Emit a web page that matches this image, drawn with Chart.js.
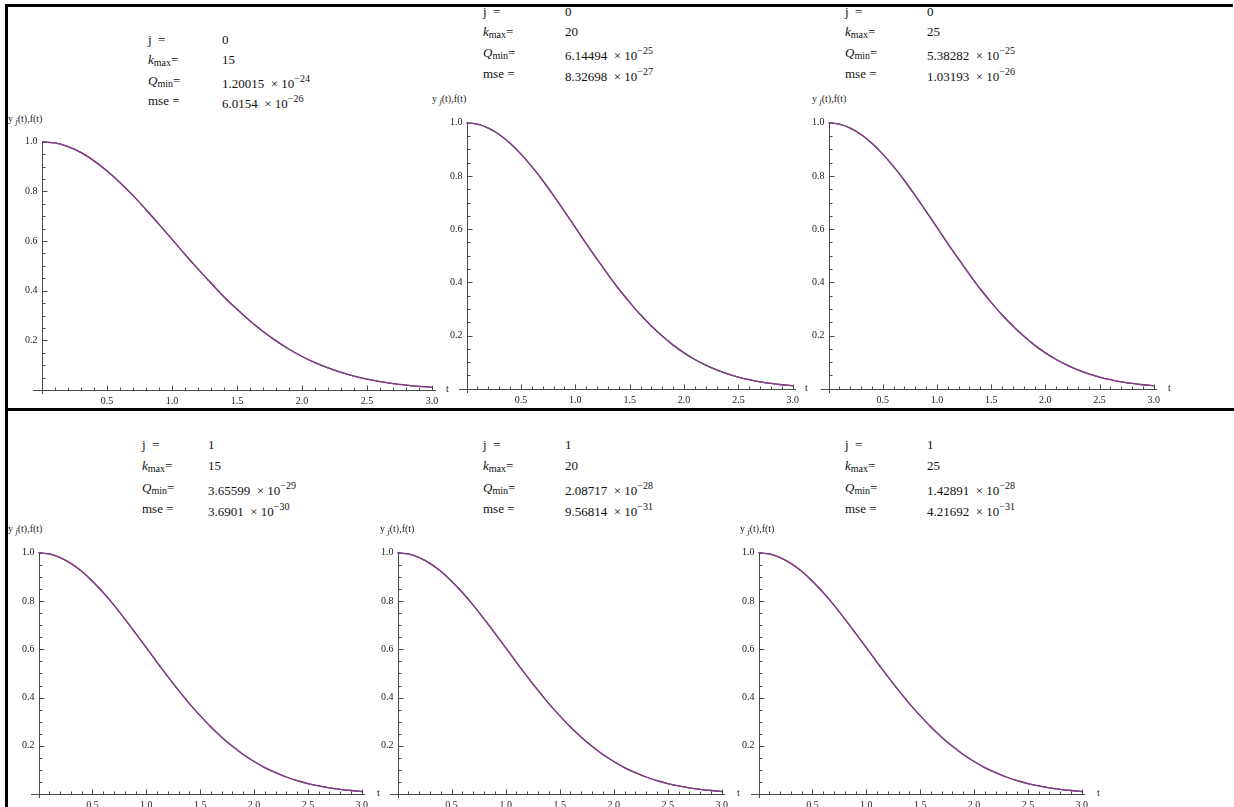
<!DOCTYPE html>
<html>
<head>
<meta charset="utf-8">
<script src="https://cdn.jsdelivr.net/npm/chart.js@4"></script>
<style>
html, body { margin: 0; padding: 0; background: #fff; }
#page { position: relative; width: 1234px; height: 807px; overflow: hidden; font-family: "Liberation Serif", "DejaVu Serif", serif; color: #000; }
.rule { position: absolute; background: #000; }
canvas { position: absolute; }
.txt { position: absolute; white-space: nowrap; line-height: 1; font-size: 13px; color: #111; }
.txt sub { font-size: 10px; vertical-align: -2px; }
.txt sup { font-size: 10px; vertical-align: 6px; }
.axl { position: absolute; white-space: nowrap; line-height: 1; font-size: 10px; color: #222; }
.axl sub { font-size: 8px; font-style: italic; vertical-align: -2px; }
</style>
</head>
<body>
<div id="page">
  <div class="rule" style="left:5px;top:4px;width:1228px;height:3px;"></div>
  <div class="rule" style="left:5px;top:4px;width:3px;height:803px;"></div>
  <div class="rule" style="left:5px;top:408px;width:1229px;height:3px;"></div>
</div>
<script>
// curve, t = 0 .. 3 step 0.1
const tValues = [0, 0.1, 0.2, 0.3, 0.4, 0.5, 0.6, 0.7, 0.8, 0.9, 1.0, 1.1, 1.2, 1.3, 1.4, 1.5,
  1.6, 1.7, 1.8, 1.9, 2.0, 2.1, 2.2, 2.3, 2.4, 2.5, 2.6, 2.7, 2.8, 2.9, 3.0];
const yjValues = [1.000, 0.995, 0.980, 0.956, 0.923, 0.882, 0.835, 0.783, 0.726, 0.667, 0.607,
  0.546, 0.487, 0.430, 0.375, 0.325, 0.278, 0.236, 0.198, 0.164, 0.135, 0.110, 0.089, 0.071,
  0.056, 0.044, 0.034, 0.026, 0.020, 0.015, 0.011];
const fValues = [1.000, 0.995, 0.980, 0.956, 0.923, 0.882, 0.835, 0.783, 0.726, 0.667, 0.607,
  0.546, 0.487, 0.430, 0.375, 0.325, 0.278, 0.236, 0.198, 0.164, 0.135, 0.110, 0.089, 0.071,
  0.056, 0.044, 0.034, 0.026, 0.020, 0.015, 0.011];

// tick marks and labels
const xMajor = [0.5, 1.0, 1.5, 2.0, 2.5, 3.0];
const xLabels = ["0.5", "1.0", "1.5", "2.0", "2.5", "3.0"];
const xMinor = [0.1, 0.2, 0.3, 0.4, 0.6, 0.7, 0.8, 0.9, 1.1, 1.2, 1.3, 1.4, 1.6, 1.7, 1.8, 1.9,
  2.1, 2.2, 2.3, 2.4, 2.6, 2.7, 2.8, 2.9];
const yMajor = [0.2, 0.4, 0.6, 0.8, 1.0];
const yLabels = ["0.2", "0.4", "0.6", "0.8", "1.0"];
const yMinor = [0.05, 0.1, 0.15, 0.25, 0.3, 0.35, 0.45, 0.5, 0.55, 0.65, 0.7, 0.75, 0.85, 0.9, 0.95];

// annotation per panel
const jValues = ["0", "0", "0", "1", "1", "1"];
const kmaxValues = ["15", "20", "25", "15", "20", "25"];
const qminMant = ["1.20015", "6.14494", "5.38282", "3.65599", "2.08717", "1.42891"];
const qminExp = ["\u221224", "\u221225", "\u221225", "\u221229", "\u221228", "\u221228"];
const mseMant = ["6.0154", "8.32698", "1.03193", "3.6901", "9.56814", "4.21692"];
const mseExp = ["\u221226", "\u221227", "\u221226", "\u221230", "\u221231", "\u221231"];

// where each plot sits on the page (pixel of t=0 / y=0 and pixels per unit)
const panels = [
  { x0: 42, ux: 130, y0: 389.5, uy: 248, lx: 148, vx: 222, rows: [40, 60, 81, 101], ax: 8, ay: 120, tx: 446 },
  { x0: 466.6, ux: 108.8, y0: 388.5, uy: 265.5, lx: 483, vx: 565, rows: [12, 32, 53, 74], ax: 432, ay: 100, tx: 805 },
  { x0: 828.8, ux: 108.4, y0: 388.5, uy: 265.5, lx: 845, vx: 927, rows: [12, 32, 53, 74], ax: 812, ay: 100, tx: 1168 },
  { x0: 39, ux: 107.6, y0: 793.5, uy: 241, lx: 142, vx: 208, rows: [445, 466, 488, 509], ax: 8, ay: 530, tx: 377 },
  { x0: 398, ux: 108, y0: 793.5, uy: 241, lx: 483, vx: 565, rows: [445, 466, 488, 509], ax: 380, ay: 530, tx: 737 },
  { x0: 759, ux: 107.6, y0: 793.5, uy: 241, lx: 845, vx: 927, rows: [445, 466, 488, 509], ax: 740, ay: 530, tx: 1097 }
];

const X_MIN = -0.07, X_MAX = 3.03, Y_MIN = -0.016, Y_MAX = 1.003;
const PAD = { left: 30, right: 12, top: 8, bottom: 20 };
const axisColor = "#4a4a4a";

const mathAxes = {
  id: "mathAxes",
  beforeDatasetsDraw(chart) {
    const { ctx, chartArea, scales: { x, y } } = chart;
    const px0 = Math.round(x.getPixelForValue(0)) + 0.5;
    const py0 = Math.round(y.getPixelForValue(0)) + 0.5;
    ctx.save();
    ctx.strokeStyle = axisColor;
    ctx.lineWidth = 1;
    ctx.beginPath();
    ctx.moveTo(chartArea.left, py0);
    ctx.lineTo(chartArea.right, py0);
    ctx.moveTo(px0, chartArea.bottom);
    ctx.lineTo(px0, chartArea.top);
    // x ticks point up, y ticks point right
    xMajor.forEach(v => {
      const p = Math.round(x.getPixelForValue(v)) + 0.5;
      ctx.moveTo(p, py0); ctx.lineTo(p, py0 - 5);
    });
    xMinor.forEach(v => {
      const p = Math.round(x.getPixelForValue(v)) + 0.5;
      ctx.moveTo(p, py0); ctx.lineTo(p, py0 - 3);
    });
    yMajor.forEach(v => {
      const p = Math.round(y.getPixelForValue(v)) + 0.5;
      ctx.moveTo(px0, p); ctx.lineTo(px0 + 5, p);
    });
    yMinor.forEach(v => {
      const p = Math.round(y.getPixelForValue(v)) + 0.5;
      ctx.moveTo(px0, p); ctx.lineTo(px0 + 3, p);
    });
    ctx.stroke();

    ctx.fillStyle = "#222";
    ctx.font = '10px "Liberation Serif"';
    ctx.textAlign = "center";
    ctx.textBaseline = "top";
    xMajor.forEach((v, i) => ctx.fillText(xLabels[i], x.getPixelForValue(v), py0 + 6));
    ctx.textAlign = "right";
    ctx.textBaseline = "middle";
    yMajor.forEach((v, i) => ctx.fillText(yLabels[i], px0 - 5, y.getPixelForValue(v)));
    ctx.restore();
  }
};

const page = document.getElementById("page");

function addText(cls, left, top, html) {
  const d = document.createElement("div");
  d.className = cls;
  d.style.left = left + "px";
  d.style.top = top + "px";
  d.innerHTML = html;
  page.appendChild(d);
}

panels.forEach((p, i) => {
  const canvas = document.createElement("canvas");
  const w = (X_MAX - X_MIN) * p.ux + PAD.left + PAD.right;
  const h = (Y_MAX - Y_MIN) * p.uy + PAD.top + PAD.bottom;
  canvas.width = Math.round(w);
  canvas.height = Math.round(h);
  canvas.style.width = Math.round(w) + "px";
  canvas.style.height = Math.round(h) + "px";
  canvas.style.left = (p.x0 + X_MIN * p.ux - PAD.left) + "px";
  canvas.style.top = (p.y0 - Y_MAX * p.uy - PAD.top) + "px";
  page.appendChild(canvas);

  new Chart(canvas, {
    type: "line",
    data: {
      datasets: [
        {
          label: "y_j(t)",
          data: tValues.map((t, k) => ({ x: t, y: yjValues[k] })),
          borderColor: "#3d3d99",
          borderWidth: 1.3,
          order: 1
        },
        {
          label: "f(t)",
          data: tValues.map((t, k) => ({ x: t, y: fValues[k] })),
          borderColor: "#8e3a7e",
          borderWidth: 1.3,
          order: 0
        }
      ]
    },
    options: {
      responsive: false,
      animation: false,
      events: [],
      layout: { padding: PAD },
      elements: { point: { radius: 0 }, line: { cubicInterpolationMode: "monotone" } },
      plugins: { legend: { display: false }, tooltip: { enabled: false } },
      scales: {
        x: { type: "linear", min: X_MIN, max: X_MAX, display: false },
        y: { type: "linear", min: Y_MIN, max: Y_MAX, display: false }
      }
    },
    plugins: [mathAxes]
  });

  // annotation block
  const r = p.rows;
  addText("txt", p.lx, r[0] - 7, "j&nbsp;&nbsp;=");
  addText("txt", p.vx, r[0] - 7, jValues[i]);
  addText("txt", p.lx, r[1] - 7, "<i>k</i><sub>max</sub>=");
  addText("txt", p.vx, r[1] - 7, kmaxValues[i]);
  addText("txt", p.lx, r[2] - 7, "<i>Q</i><sub>min</sub>=");
  addText("txt", p.vx, r[2] - 7, qminMant[i] + "&nbsp;&nbsp;\u00d7 10<sup>" + qminExp[i] + "</sup>");
  addText("txt", p.lx, r[3] - 7, "mse =");
  addText("txt", p.vx, r[3] - 7, mseMant[i] + "&nbsp;&nbsp;\u00d7 10<sup>" + mseExp[i] + "</sup>");

  // axis labels
  addText("axl", p.ax, p.ay - 6, "y <sub>j</sub>(t),f(t)");
  addText("axl", p.tx, p.y0 - 6, "t");
});
</script>
</body>
</html>
